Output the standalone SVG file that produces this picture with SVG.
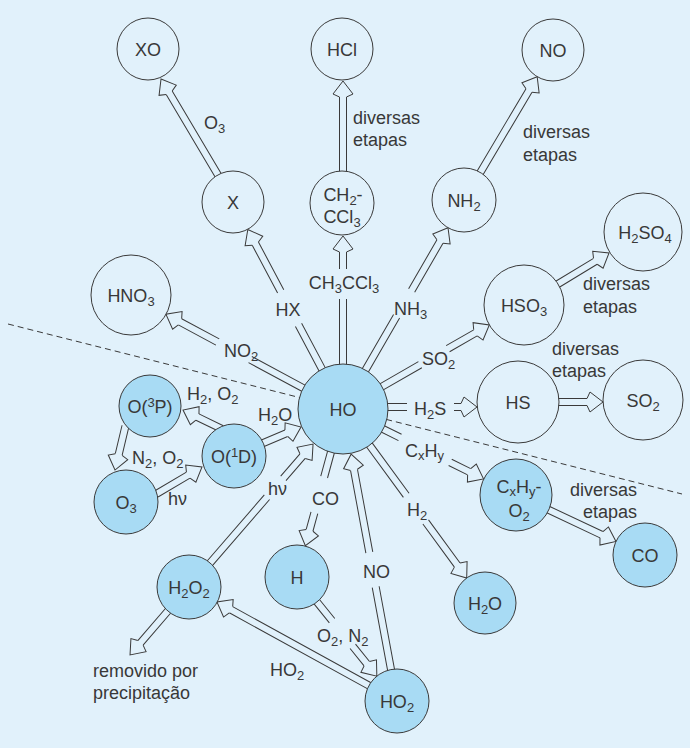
<svg xmlns="http://www.w3.org/2000/svg" xmlns:xlink="http://www.w3.org/1999/xlink" width="690" height="748" viewBox="0 0 690 748">
<style>
.bg{fill:#e1f1fb}
.n{fill:#e1f1fb;stroke:#3a3a3a;stroke-width:1}
.f{fill:#a8dbf4;stroke:#3a3a3a;stroke-width:1}
.sh{fill:none;stroke:#3a3a3a;stroke-width:1}
.hd{fill:#e1f1fb;stroke:#3a3a3a;stroke-width:1;stroke-linejoin:miter}
.dash{fill:none;stroke:#3a3a3a;stroke-width:1;stroke-dasharray:6 4}
text{font-family:"Liberation Sans",Arial,Helvetica,sans-serif;font-size:18px;fill:#383838}
.m{text-anchor:middle}
.e{text-anchor:end}
.s{font-size:13px}
</style>
<defs>
<path id="hd" class="hd" d="M-16,-3.5 L-13,-10 L0,0 L-13,10 L-16,3.5"/>
</defs>
<rect class="bg" x="0" y="0" width="690" height="748"/>
<path class="dash" d="M8,324 L682,494"/>
<g id="connectors">
<g transform="translate(218,175) rotate(-120.7)"><path class="sh" d="M-2,-3.5H95.6M-2,3.5H95.6"/><use href="#hd" x="111.6"/></g>
<g transform="translate(343,171) rotate(-90)"><path class="sh" d="M-2,-3.5H74M-2,3.5H74"/><use href="#hd" x="90"/></g>
<g transform="translate(480.3,172.5) rotate(-59.3)"><path class="sh" d="M-2,-3.5H95.4M-2,3.5H95.4"/><use href="#hd" x="111.4"/></g>
<g transform="translate(322,369) rotate(-118)"><path class="sh" d="M-2,-3.5H50M-2,3.5H50M88,-3.5H142M88,3.5H142"/><use href="#hd" x="158"/></g>
<g transform="translate(343,364) rotate(-90)"><path class="sh" d="M-2,-3.5H65M-2,3.5H65M95,-3.5H112M95,3.5H112"/><use href="#hd" x="128"/></g>
<g transform="translate(365.5,370) rotate(-59.9)"><path class="sh" d="M-2,-3.5H62M-2,3.5H62M92,-3.5H148.5M92,3.5H148.5"/><use href="#hd" x="164.5"/></g>
<g transform="translate(303,388) rotate(-151.7)"><path class="sh" d="M-2,-3.5H60M-2,3.5H60M97,-3.5H139.7M97,3.5H139.7"/><use href="#hd" x="155.7"/></g>
<g transform="translate(382,386.6) rotate(-29.9)"><path class="sh" d="M-2,-3.5H44M-2,3.5H44M76,-3.5H107.8M76,3.5H107.8"/><use href="#hd" x="123.8"/></g>
<g transform="translate(388,407)"><path class="sh" d="M-2,-3.5H19M-2,3.5H19M66,-3.5H73M66,3.5H73"/><use href="#hd" x="89"/></g>
<g transform="translate(559,402)"><path class="sh" d="M-2,-3.5H28M-2,3.5H28"/><use href="#hd" x="44"/></g>
<g transform="translate(558,284) rotate(-31.3)"><path class="sh" d="M-2,-3.5H43.7M-2,3.5H43.7"/><use href="#hd" x="59.7"/></g>
<g transform="translate(383,429) rotate(26.4)"><path class="sh" d="M-2,-3.5H19M-2,3.5H19M75,-3.5H96.2M75,3.5H96.2"/><use href="#hd" x="112.2"/></g>
<g transform="translate(549,510) rotate(25.2)"><path class="sh" d="M-2,-3.5H58M-2,3.5H58"/><use href="#hd" x="74"/></g>
<g transform="translate(369.6,445.3) rotate(53.8)"><path class="sh" d="M-2,-3.5H62M-2,3.5H62M95,-3.5H148.4M95,3.5H148.4"/><use href="#hd" x="164.4"/></g>
<g transform="translate(331,452) rotate(105.3)"><path class="sh" d="M-2,-3.5H26M-2,3.5H26M63,-3.5H81.2M63,3.5H81.2"/><use href="#hd" x="97.2"/></g>
<g transform="translate(317,602) rotate(51.1)"><path class="sh" d="M-2,-3.5H24M-2,3.5H24M57,-3.5H79.3M57,3.5H79.3"/><use href="#hd" x="95.3"/></g>
<g transform="translate(391,669.5) rotate(-100.5)"><path class="sh" d="M-2,-3.5H84M-2,3.5H84M119,-3.5H203M119,3.5H203"/><use href="#hd" x="219"/></g>
<g transform="translate(369,685.6) rotate(-151.2)"><path class="sh" d="M-2,-3.5H157.5M-2,3.5H157.5"/><use href="#hd" x="173.5"/></g>
<g transform="translate(210,563) rotate(-49.1)"><path class="sh" d="M-2,-3.5H87M-2,3.5H87M112,-3.5H141.4M112,3.5H141.4"/><use href="#hd" x="157.4"/></g>
<g transform="translate(167,612) rotate(130.7)"><path class="sh" d="M-2,-3.5H40.7M-2,3.5H40.7"/><use href="#hd" x="56.7"/></g>
<g transform="translate(263.4,443) rotate(-23.1)"><path class="sh" d="M-2,-3.5H24.9M-2,3.5H24.9"/><use href="#hd" x="40.9"/></g>
<g transform="translate(220,428) rotate(-154.1)"><path class="sh" d="M-2,-3.5H25.1M-2,3.5H25.1"/><use href="#hd" x="41.1"/></g>
<g transform="translate(125,428) rotate(103.4)"><path class="sh" d="M-2,-3.5H27.2M-2,3.5H27.2"/><use href="#hd" x="43.2"/></g>
<g transform="translate(158,493) rotate(-30.6)"><path class="sh" d="M-2,-3.5H35.1M-2,3.5H35.1"/><use href="#hd" x="51.1"/></g>
</g>
<g id="labels">
<text x="204" y="129">O<tspan class="s" dy="4">3</tspan></text>
<text x="353" y="124">diversas</text>
<text x="353" y="146">etapas</text>
<text x="523" y="138">diversas</text>
<text x="523" y="161">etapas</text>
<text class="m" x="288" y="316">HX</text>
<text class="m" x="344" y="289">CH<tspan class="s" dy="4">3</tspan><tspan dy="-4">CCl</tspan><tspan class="s" dy="4">3</tspan></text>
<text x="394" y="315">NH<tspan class="s" dy="4">3</tspan></text>
<text x="224" y="357">NO<tspan class="s" dy="4">2</tspan></text>
<text x="422" y="365">SO<tspan class="s" dy="4">2</tspan></text>
<text x="414" y="415">H<tspan class="s" dy="4">2</tspan><tspan dy="-4">S</tspan></text>
<text x="583" y="290">diversas</text>
<text x="583" y="313">etapas</text>
<text x="552" y="355">diversas</text>
<text x="552" y="377">etapas</text>
<text x="405" y="457">C<tspan class="s" dy="3">x</tspan><tspan dy="-3">H</tspan><tspan class="s" dy="3">y</tspan></text>
<text class="e" x="637" y="496">diversas</text>
<text class="e" x="637" y="518">etapas</text>
<text x="407" y="516">H<tspan class="s" dy="4">2</tspan></text>
<text x="312" y="505">CO</text>
<text x="317" y="642">O<tspan class="s" dy="4">2</tspan><tspan dy="-4">, N</tspan><tspan class="s" dy="4">2</tspan></text>
<text x="363" y="578">NO</text>
<text x="270" y="676">HO<tspan class="s" dy="4">2</tspan></text>
<text x="268" y="495">hν</text>
<text x="93" y="677">removido por</text>
<text x="93" y="699">precipitação</text>
<text x="258" y="421">H<tspan class="s" dy="4">2</tspan><tspan dy="-4">O</tspan></text>
<text x="187" y="400">H<tspan class="s" dy="4">2</tspan><tspan dy="-4">, O</tspan><tspan class="s" dy="4">2</tspan></text>
<text x="132" y="464">N<tspan class="s" dy="4">2</tspan><tspan dy="-4">, O</tspan><tspan class="s" dy="4">2</tspan></text>
<text x="168" y="505">hν</text>
</g>
<g id="n-XO"><circle class="n" cx="148" cy="49" r="31"/><text class="m" x="148" y="56">XO</text></g>
<g id="n-HCl"><circle class="n" cx="342" cy="49" r="31"/><text class="m" x="342" y="56">HCl</text></g>
<g id="n-NO"><circle class="n" cx="553" cy="50" r="31"/><text class="m" x="553" y="57">NO</text></g>
<g id="n-X"><circle class="n" cx="233" cy="202" r="31"/><text class="m" x="233" y="209">X</text></g>
<g id="n-CH2CCl3"><circle class="n" cx="342" cy="203" r="32"/><text class="m" x="343" y="201">CH<tspan class="s" dy="4">2</tspan><tspan dy="-4">-</tspan></text><text class="m" x="342" y="223">CCl<tspan class="s" dy="4">3</tspan></text></g>
<g id="n-NH2"><circle class="n" cx="464" cy="200" r="32"/><text class="m" x="464" y="207">NH<tspan class="s" dy="4">2</tspan></text></g>
<g id="n-H2SO4"><circle class="n" cx="643" cy="232" r="39"/><text class="m" x="645" y="239">H<tspan class="s" dy="4">2</tspan><tspan dy="-4">SO</tspan><tspan class="s" dy="4">4</tspan></text></g>
<g id="n-HNO3"><circle class="n" cx="131" cy="295" r="40"/><text class="m" x="131" y="302">HNO<tspan class="s" dy="4">3</tspan></text></g>
<g id="n-HSO3"><circle class="n" cx="524" cy="305" r="40"/><text class="m" x="524" y="312">HSO<tspan class="s" dy="4">3</tspan></text></g>
<g id="n-HS"><circle class="n" cx="518" cy="402" r="41"/><text class="m" x="518" y="409">HS</text></g>
<g id="n-SO2"><circle class="n" cx="643" cy="400" r="40"/><text class="m" x="643" y="407">SO<tspan class="s" dy="4">2</tspan></text></g>
<g id="n-HO"><circle class="f" cx="343" cy="409" r="45"/><text class="m" x="343" y="416">HO</text></g>
<g id="n-O3P"><circle class="f" cx="150" cy="406" r="31"/><text class="m" x="150" y="413">O(<tspan class="s" dy="-6">3</tspan><tspan dy="6">P)</tspan></text></g>
<g id="n-O1D"><circle class="f" cx="234" cy="456" r="32"/><text class="m" x="234" y="463">O(<tspan class="s" dy="-6">1</tspan><tspan dy="6">D)</tspan></text></g>
<g id="n-O3"><circle class="f" cx="126" cy="502" r="32"/><text class="m" x="126" y="509">O<tspan class="s" dy="4">3</tspan></text></g>
<g id="n-CxHyO2"><circle class="f" cx="516" cy="495" r="36"/><text class="m" x="519" y="493">C<tspan class="s" dy="3">x</tspan><tspan dy="-3">H</tspan><tspan class="s" dy="3">y</tspan><tspan dy="-3">-</tspan></text><text class="m" x="519" y="517">O<tspan class="s" dy="4">2</tspan></text></g>
<g id="n-CO"><circle class="f" cx="645" cy="555" r="32"/><text class="m" x="645" y="562">CO</text></g>
<g id="n-H2O2"><circle class="f" cx="189" cy="587" r="32"/><text class="m" x="189" y="594">H<tspan class="s" dy="4">2</tspan><tspan dy="-4">O</tspan><tspan class="s" dy="4">2</tspan></text></g>
<g id="n-H"><circle class="f" cx="297" cy="577" r="32"/><text class="m" x="297" y="584">H</text></g>
<g id="n-H2O"><circle class="f" cx="485" cy="603" r="31"/><text class="m" x="485" y="610">H<tspan class="s" dy="4">2</tspan><tspan dy="-4">O</tspan></text></g>
<g id="n-HO2"><circle class="f" cx="397" cy="701" r="32"/><text class="m" x="397" y="708">HO<tspan class="s" dy="4">2</tspan></text></g>
</svg>
